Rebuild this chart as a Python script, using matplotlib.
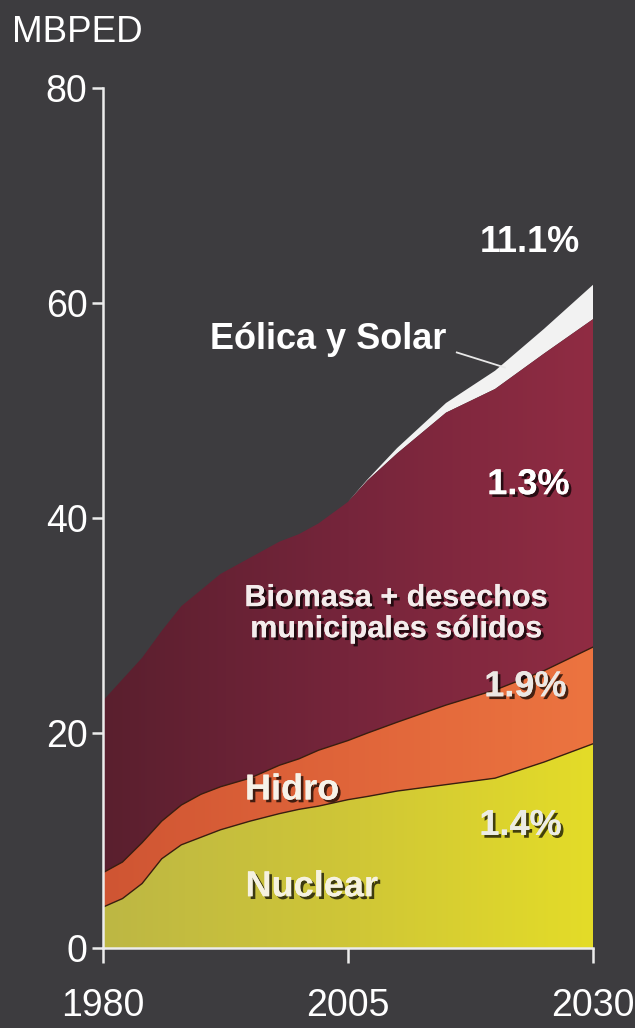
import numpy as np
import matplotlib
matplotlib.use("Agg")
import matplotlib.pyplot as plt
from matplotlib.colors import LinearSegmentedColormap
import matplotlib.patheffects as pe

plt.rcParams['font.family'] = ['Liberation Sans', 'DejaVu Sans']

# ---- data (MBPED) ----
years = [1980, 1982, 1984, 1986, 1988, 1990, 1992, 1995, 1998, 2000, 2002,
         2005, 2007, 2010, 2015, 2020, 2025, 2030]
nuclear = [3.8, 4.6, 6.0, 8.3, 9.6, 10.3, 11.0, 11.8, 12.5, 12.9, 13.2,
           13.8, 14.1, 14.6, 15.2, 15.8, 17.3, 19.0]
hidro = [3.2, 3.4, 3.8, 3.5, 3.7, 4.0, 4.0, 4.0, 4.5, 4.7, 5.2,
         5.5, 5.9, 6.4, 7.4, 8.2, 8.5, 9.0]
biomasa = [16.0, 17.0, 17.2, 17.7, 18.5, 19.0, 19.8, 20.5, 20.8, 20.9, 21.1,
           22.2, 23.5, 25.0, 27.2, 28.0, 29.5, 30.5]
eolica_solar = [0, 0, 0, 0, 0, 0, 0, 0, 0, 0, 0,
                0, 0.1, 0.5, 0.9, 1.7, 2.3, 3.2]
x_ticks = [1980, 2005, 2030]
y_ticks = [0, 20, 40, 60, 80]

bg = '#3d3c3f'
fig = plt.figure(figsize=(6.35, 10.28), dpi=100, facecolor=bg)
ax = fig.add_axes([0.162, 0.0778, 0.772, 0.8366])
ax.set_facecolor(bg)

polys = ax.stackplot(years, nuclear, hidro, biomasa, eolica_solar,
                     colors=['#c9c23c', '#e0653a', '#7a2538', '#f2f2f2'],
                     linewidth=0)

grads = [
    ['#bdb744', '#cfc637', '#e4dc28'],
    ['#cf5533', '#e0653a', '#ec7440'],
    ['#5a1f2e', '#76253b', '#902c43'],
    None,
]
grad = np.linspace(0, 1, 256).reshape(1, -1)
for poly, g in zip(polys, grads):
    if g is None:
        continue
    cmap = LinearSegmentedColormap.from_list('g', g)
    poly.set_facecolor('none')
    im = ax.imshow(grad, cmap=cmap, extent=[1980, 2030, 0, 80],
                   aspect='auto', origin='lower', zorder=1.5)
    im.set_clip_path(poly.get_paths()[0], transform=ax.transData)

# boundary lines
c1 = np.array(nuclear)
c2 = c1 + np.array(hidro)
ax.plot(years, c1, color='#3a1e10', lw=1.0, zorder=3)
ax.plot(years, c2, color='#3a1e10', lw=1.0, zorder=3)

ax.set_xlim(1980, 2030)
ax.set_ylim(0, 80)

for s in ['top', 'right']:
    ax.spines[s].set_visible(False)
for s in ['left', 'bottom']:
    ax.spines[s].set_color('#ececec')
    ax.spines[s].set_linewidth(1.8)
    ax.spines[s].set_zorder(5)

ax.set_xticks(x_ticks)
ax.set_yticks(y_ticks)
ax.tick_params(axis='x', colors='#ececec', length=11, width=1.8,
               labelsize=27, pad=18, labelcolor='white')
ax.tick_params(axis='y', colors='#ececec', length=8, width=1.8,
               labelsize=27, pad=3, labelcolor='white')

fig.text(12 / 635, 1 - 42 / 1028, 'MBPED', color='white', fontsize=26.5,
         ha='left', va='baseline')

shadow = [pe.withSimplePatchShadow(offset=(2, -2), shadow_rgbFace='black',
                                   alpha=0.7), pe.Normal()]

def label(x, y, s, size=26, color='white', fx=True):
    ax.text(x, y, s, ha='center', va='center', fontsize=size,
            fontweight='bold', color=color, zorder=6,
            path_effects=shadow if fx else None, linespacing=1.05)

label(2023.6, 65.6, '11.1%', fx=False)
label(2003.0, 56.6, 'Eólica y Solar', fx=False)
label(2023.4, 43.1, '1.3%')
label(2009.9, 31.1, 'Biomasa + desechos\nmunicipales sólidos', size=22,
      color='#f4ecec')
label(2023.1, 24.3, '1.9%', color='#ece8e4')
label(1999.3, 14.7, 'Hidro', color='#f6f2e8')
label(2022.6, 11.4, '1.4%', color='#ecece4')
label(2001.3, 5.7, 'Nuclear', color='#f6f2e0')

# pointer for Eólica y Solar
ax.plot([2016.1, 2021.0], [55.4, 54.0], color='#e8e8e8', lw=1.3, zorder=6,
        clip_on=False)

fig.savefig('out.png', dpi=100, facecolor=bg)
